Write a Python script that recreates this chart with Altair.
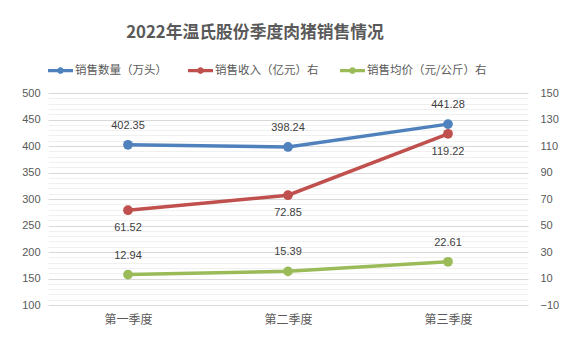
import altair as alt
import pandas as pd

quarters = ["第一季度", "第二季度", "第三季度"]
series_names = ["销售数量（万头）", "销售收入（亿元）右", "销售均价（元/公斤）右"]
volume = [402.35, 398.24, 441.28]
revenue = [61.52, 72.85, 119.22]
price = [12.94, 15.39, 22.61]
colors = ["#4F81BD", "#C0504D", "#9BBB59"]
left_ticks = list(range(100, 501, 10))
right_ticks = list(range(-10, 151, 20))

rows = []
for s, vals in zip(series_names, [volume, revenue, price]):
    for q, v in zip(quarters, vals):
        rows.append({"系列": s, "季度": q, "数值": v, "标签": f"{v:.2f}"})
df = pd.DataFrame(rows)

CJK = "Noto Sans CJK SC"
NUM = "Liberation Sans"

legend_path = ("M-1,-0.13H1V0.13H-1Z "
               "M-0.27,0A0.27,0.27 0 1 1 0.27,0A0.27,0.27 0 1 1 -0.27,0Z")

x_enc = alt.X("季度:N", sort=quarters, title=None,
              axis=alt.Axis(labelFont=CJK, labelFontSize=12, labelColor="#595959",
                            labelPadding=9, ticks=False, domain=False, grid=False,
                            labelAngle=0))

# stroke scale lists the same mapping in reverse order so its legend is not merged with the fill legend
stroke_enc = alt.Stroke("系列:N",
                        scale=alt.Scale(domain=series_names[::-1], range=colors[::-1]),
                        legend=None)
fill_enc = alt.Fill("系列:N", scale=alt.Scale(domain=series_names, range=colors),
                    legend=alt.Legend(orient="none", legendX=0, legendY=-35,
                                      direction="horizontal", columns=3,
                                      symbolType=legend_path, symbolSize=625,
                                      symbolOpacity=1, symbolStrokeWidth=0,
                                      labelFont=CJK, labelFontSize=11.5,
                                      labelColor="#595959", labelOffset=2,
                                      columnPadding=21, title=None))

y_left = alt.Y("数值:Q", title=None,
               scale=alt.Scale(domain=[100, 500], nice=False, zero=False),
               axis=alt.Axis(orient="left", values=left_ticks,
                             labelExpr="datum.value % 50 === 0 ? datum.label : ''",
                             gridColor={"condition": {"test": "datum.value % 50 === 0",
                                                      "value": "#d9d9d9"},
                                        "value": "#f0f0f0"},
                             grid=True, ticks=False, domain=False, labelOverlap=False,
                             labelFont=NUM, labelFontSize=11, labelColor="#595959",
                             labelPadding=8))
y_right = alt.Y("数值:Q", title=None,
                scale=alt.Scale(domain=[-10, 150], nice=False, zero=False),
                axis=alt.Axis(orient="right", values=right_ticks, grid=False,
                              ticks=False, domain=False, labelFont=NUM,
                              labelFontSize=11, labelColor="#595959",
                              labelPadding=12, labelOverlap=False))

base = alt.Chart(df)

left_df_filter = alt.datum["系列"] == series_names[0]

left = alt.layer(
    base.transform_filter(left_df_filter).mark_line(strokeWidth=3.5).encode(
        x=x_enc, y=y_left, stroke=stroke_enc),
    base.transform_filter(left_df_filter).mark_circle(size=95, opacity=1).encode(
        x=x_enc, y=y_left, fill=fill_enc),
    base.transform_filter(left_df_filter).mark_text(
        dy=-19, font=NUM, fontSize=11, color="#404040").encode(
        x=x_enc, y=y_left, text="标签:N"),
)

right_filter = alt.datum["系列"] != series_names[0]
right = alt.layer(
    base.transform_filter(right_filter).mark_line(strokeWidth=3.5).encode(
        x=x_enc, y=y_right, stroke=stroke_enc, detail="系列:N"),
    base.transform_filter(right_filter).mark_circle(size=95, opacity=1).encode(
        x=x_enc, y=y_right, fill=fill_enc),
    base.transform_filter(alt.datum["系列"] == series_names[1]).mark_text(
        dy=18, font=NUM, fontSize=11, color="#404040").encode(
        x=x_enc, y=y_right, text="标签:N"),
    base.transform_filter(alt.datum["系列"] == series_names[2]).mark_text(
        dy=-19, font=NUM, fontSize=11, color="#404040").encode(
        x=x_enc, y=y_right, text="标签:N"),
)

chart = alt.layer(left, right).resolve_scale(y="independent").properties(
    width=480, height=212,
    autosize=alt.AutoSizeParams(type="none"),
    padding={"left": 48, "top": 93, "right": 47, "bottom": 36},
    background="white",
    title=alt.TitleParams(text="2022年温氏股份季度肉猪销售情况", font=CJK,
                          fontSize=16.8, fontWeight="bold", color="#595959",
                          anchor="middle", frame="group", dx=-33, offset=16),
).configure_view(stroke=None)

chart.save("out.html", embed_options={"renderer": "svg", "actions": False})
